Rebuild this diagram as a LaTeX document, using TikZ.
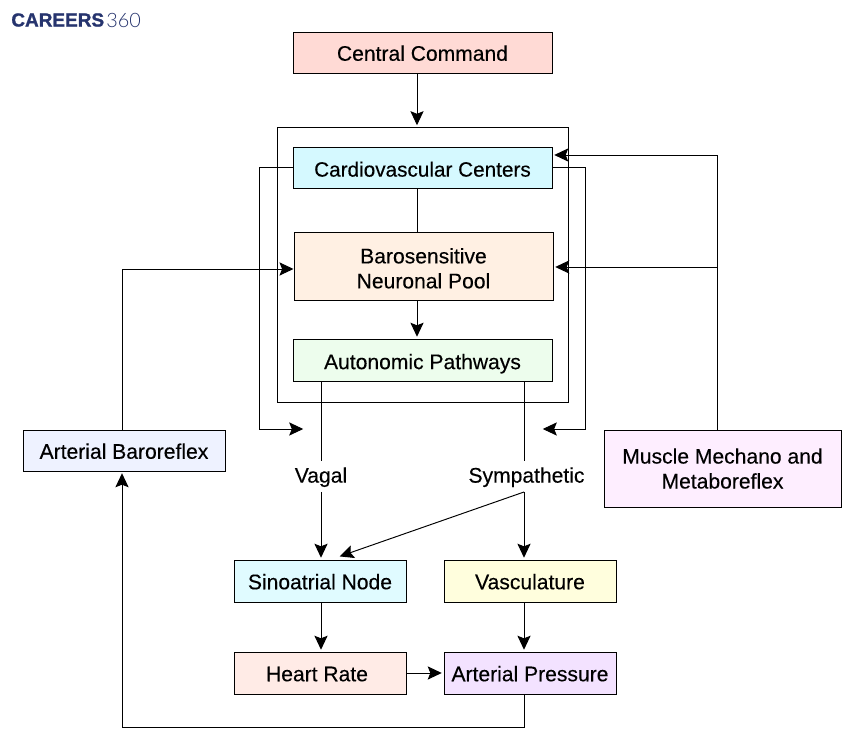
\documentclass[tikz,border=0pt]{standalone}
\usepackage{fontspec}
\setmainfont{Liberation Sans}[FakeBold=0.25]
\newfontfamily\logobold{Liberation Sans}[BoldFeatures={FakeBold=1.2}]
\newfontfamily\logolight{Lato Light}
\usetikzlibrary{arrows.meta}
\definecolor{navy}{HTML}{26346E}
\begin{document}
\begin{tikzpicture}
        [x=0.02cm,y=-0.02cm,
        box/.style={rectangle,draw,line width=0.55pt,inner sep=0pt,align=center,font=\fontsize{12}{14.2}\selectfont},
        one/.style={box,text height=12pt,text depth=2.6pt},
        wide/.style={one,minimum width=259*0.02cm,minimum height=41*0.02cm},
        small/.style={one,minimum width=172*0.02cm,minimum height=42*0.02cm},
        lbl/.style={inner sep=0pt,text height=12pt,text depth=1.6pt,minimum height=24*0.02cm,font=\fontsize{12}{14.2}\selectfont},
        edge/.style={line width=0.55pt},
        arrow/.style={edge,-{Stealth[length=8pt,width=7.5pt,inset=1.5pt]},shorten >=1pt}]
        \useasboundingbox (0,0) rectangle (860,756);

        % Logo
        \node[inner sep=0pt,anchor=west,text=navy,font=\fontsize{10.8}{12}\logobold\bfseries] (LG) at (11,20) {CAREERS};
        \node[inner sep=0pt,anchor=west,text=navy,font=\fontsize{11.3}{12}\logolight] (LN) at (106,20) {360};

        % Central boxes
        \node[wide,fill={rgb,255:red,255;green,218;blue,213}] (CC) at (422.5,52.5) {Central Command};
        \node[draw,line width=0.55pt,inner sep=0pt,minimum width=291*0.02cm,minimum height=275*0.02cm] (OB) at (422.5,264.5) {};
        \node[wide,text depth=1.6pt,font=\fontsize{11.8}{14.2}\selectfont,fill={rgb,255:red,213;green,249;blue,255}] (CV) at (422.5,167.5) {Cardiovascular Centers};
        \node[box,minimum width=259*0.02cm,minimum height=68*0.02cm,text height=29pt,text depth=3.6pt,fill={rgb,255:red,255;green,240;blue,227}] (BP) at (423.5,266) {Barosensitive\\Neuronal Pool};
        \node[wide,text depth=1.6pt,minimum height=42*0.02cm,fill={rgb,255:red,237;green,253;blue,237}] (AU) at (422.5,360) {Autonomic Pathways};

        % Side boxes
        \node[one,minimum width=202*0.02cm,minimum height=41*0.02cm,fill={rgb,255:red,238;green,242;blue,255}] (AB) at (124,450.5) {Arterial Baroreflex};
        \node[box,minimum width=237*0.02cm,minimum height=77*0.02cm,fill={rgb,255:red,254;green,238;blue,255}] (MM) at (722.5,468.5) {Muscle Mechano and\\Metaboreflex};

        % Lower boxes
        \node[small,fill={rgb,255:red,224;green,251;blue,255}] (SN) at (320,581) {Sinoatrial Node};
        \node[small,fill={rgb,255:red,255;green,254;blue,221}] (VS) at (530,581) {Vasculature};
        \node[small,fill={rgb,255:red,255;green,235;blue,230}] (HR) at (320,673) {Heart Rate\kern3.4pt};
        \node[small,fill={rgb,255:red,243;green,226;blue,255}] (AP) at (530,673) {Arterial Pressure};

        % Pathway labels
        \node[lbl] (VG) at (321,473.5) {Vagal};
        \node[lbl] (SY) at (526.5,473.5) {Sympathetic};

        % Free ends and bends
        \coordinate (T) at (417,127);
        \coordinate (V) at (321,492);
        \coordinate (S) at (524,492);
        \coordinate (L) at (305,429);
        \coordinate (R) at (541,429);
        \coordinate (M) at (717,267);
        \coordinate (K) at (717,155);
        \coordinate (B) at (122,269);
        \coordinate (D) at (524,727);
        \coordinate (E) at (122,727);

        % Straight arrows
        \draw[arrow] (CC.south -| T) -- (T);
        \draw[edge] (CV.south -| T) -- (BP.north -| T);
        \draw[arrow] (BP.south -| T) -- (AU.north -| T);
        \draw[arrow] (SN.south -| V) -- (HR.north -| V);
        \draw[arrow] (VS.south -| S) -- (AP.north -| S);
        \draw[arrow] (HR.east) -- (AP.west);

        % Autonomic outputs
        \draw[edge] (AU.south -| V) -- (V |- VG.north);
        \draw[arrow] (V) -- (SN.north -| V);
        \draw[edge] (AU.south -| S) -- (S |- SY.north);
        \draw[arrow] (S) -- (VS.north -| S);
        \draw[arrow] (S) -- (338,557);

        % Loops around the outer box
        \draw[arrow] (CV.west) -| (259,429) -- (L);
        \draw[arrow] (CV.east) -| (585,429) -- (R);

        % Feedback
        \draw[arrow] (MM.north -| M) |- (CV.east |- K);
        \draw[arrow] (M) -- (BP.east |- M);
        \draw[arrow,shorten >=0pt] (AB.north -| B) |- (BP.west |- B);
        \draw[arrow] (AP.south -| D) -- (D) -- (E) -- (AB.south -| E);
\end{tikzpicture}
\end{document}
